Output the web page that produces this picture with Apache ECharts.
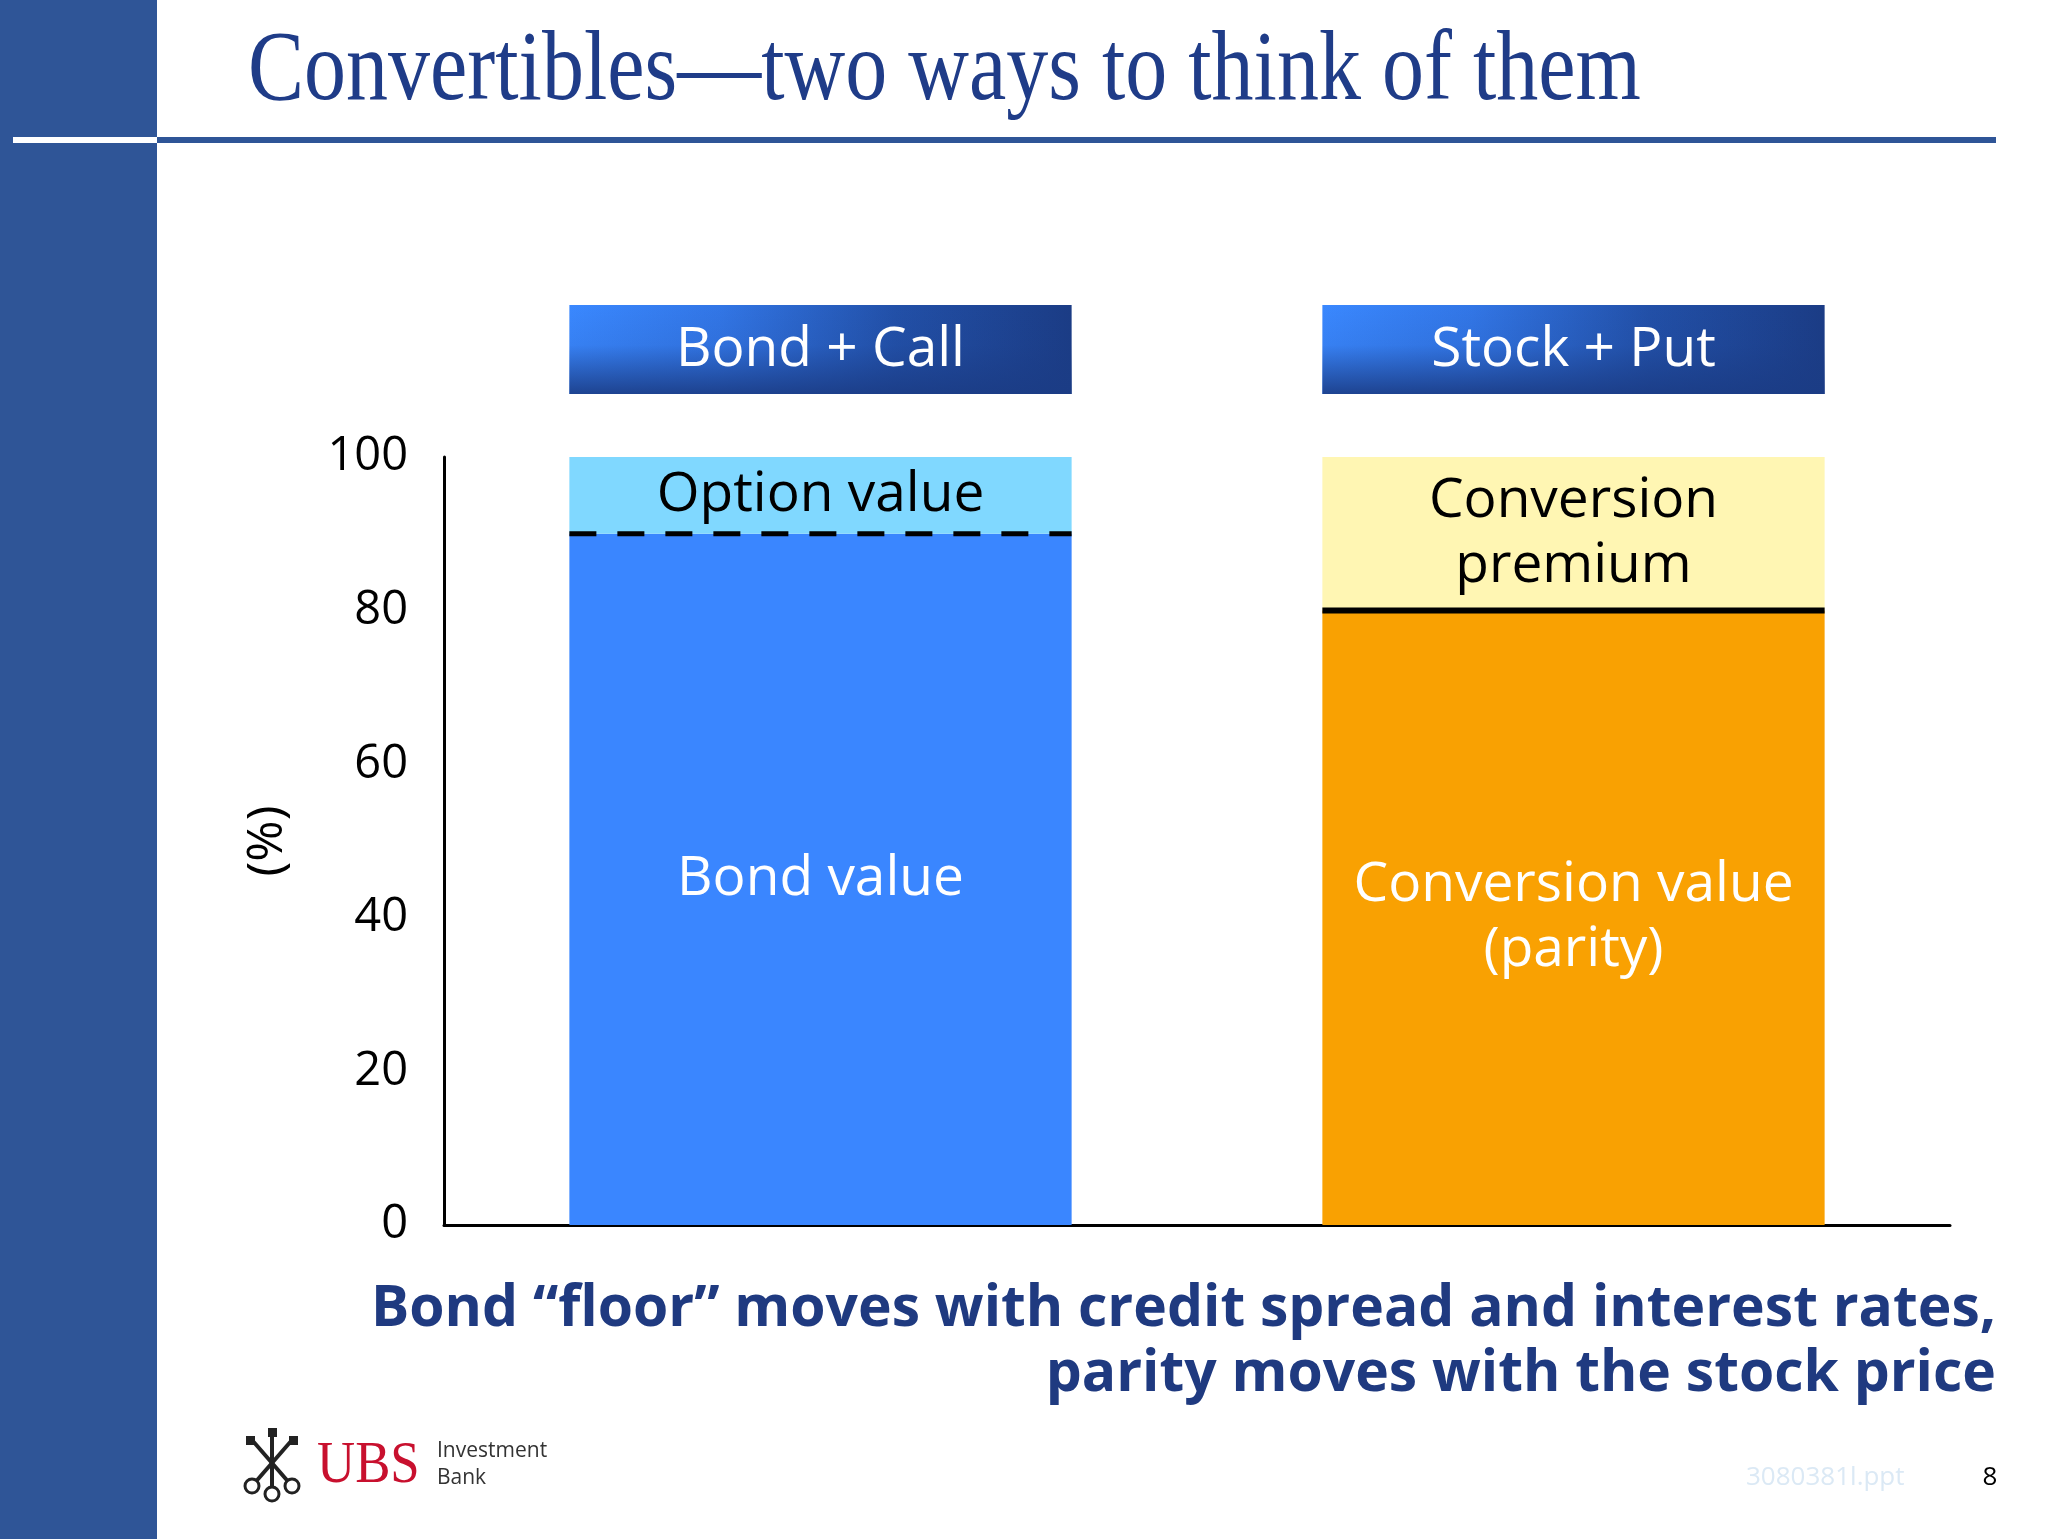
<!DOCTYPE html>
<html><head><meta charset="utf-8">
<style>html,body{margin:0;padding:0;background:#fff}#c{width:2048px;height:1539px}</style>
<script src="https://cdn.jsdelivr.net/npm/echarts@6/dist/echarts.min.js"></script>
</head><body><div id="c"></div>
<script>
const categories = ['Bond + Call', 'Stock + Put'];
const baseValues = [90, 80];
const topValues = [10, 20];
const baseLabels = ['Bond value', 'Conversion value\n(parity)'];
const topLabels = ['Option value', 'Conversion\npremium'];
const baseColors = ['#3a86ff', '#f9a102'];
const topColors = ['#80d8ff', '#fff6b3'];
const dividerDashed = [true, false];
const yTicks = [0, 20, 40, 60, 80, 100];
const yAxisName = '(%)';
const titleText = 'Convertibles\u2014two ways to think of them';
const footnoteLines = ['Bond \u201cfloor\u201d moves with credit spread and interest rates,', 'parity moves with the stock price'];
const fileLabel = '3080381l.ppt';
const pageNumber = '8';

const SANS = '"Open Sans", "Noto Sans", sans-serif';
const BAR_FRAC = 0.667;

const chart = echarts.init(document.getElementById('c'), null, {renderer: 'canvas'});

const option = {
  backgroundColor: '#ffffff',
  animation: false,
  grid: {left: 444, right: 98, top: 457, bottom: 314},
  xAxis: {
    type: 'category',
    data: categories,
    axisLine: {show: true, lineStyle: {color: '#000', width: 3}},
    axisTick: {show: false},
    axisLabel: {show: false},
    splitLine: {show: false}
  },
  yAxis: {
    type: 'value',
    min: yTicks[0],
    max: yTicks[yTicks.length - 1],
    interval: yTicks[1] - yTicks[0],
    name: yAxisName,
    nameLocation: 'middle',
    nameRotate: 90,
    nameGap: 151,
    nameTextStyle: {fontSize: 50, color: '#000', fontFamily: SANS},
    axisLine: {show: true, lineStyle: {color: '#000', width: 3}},
    axisTick: {show: false},
    splitLine: {show: false},
    axisLabel: {fontSize: 47, color: '#000', fontFamily: SANS, margin: 36}
  },
  series: [
    {
      type: 'bar', name: 'base', stack: 'total', barWidth: (BAR_FRAC * 100) + '%',
      data: baseValues.map((v, i) => ({
        value: v,
        itemStyle: {color: baseColors[i]},
        label: {show: true, position: 'inside', formatter: baseLabels[i], color: '#fff',
          fontSize: 55, lineHeight: 65, fontFamily: SANS}
      }))
    },
    {
      type: 'bar', name: 'top', stack: 'total', barWidth: (BAR_FRAC * 100) + '%',
      data: topValues.map((v, i) => ({
        value: v,
        itemStyle: {color: topColors[i]},
        label: {show: true, position: 'inside', formatter: topLabels[i], color: '#000',
          fontSize: 55, lineHeight: 65, fontFamily: SANS}
      }))
    },
    {
      type: 'custom', name: 'dividers', z: 10,
      data: baseValues.map((v, i) => [i, v]),
      renderItem: function (params, api) {
        const i = api.value(0);
        const p = api.coord([i, api.value(1)]);
        const w = api.size([1, 0])[0] * BAR_FRAC;
        const dashed = dividerDashed[params.dataIndex];
        return {
          type: 'line',
          shape: {x1: p[0] - w / 2, y1: p[1], x2: p[0] + w / 2, y2: p[1]},
          style: {stroke: '#000', lineWidth: dashed ? 5 : 6, lineDash: dashed ? [27, 21] : null, lineCap: 'butt'}
        };
      }
    },
    {
      type: 'custom', name: 'headers', z: 10, clip: false,
      data: categories.map((c, i) => [i, yTicks[yTicks.length - 1]]),
      renderItem: function (params, api) {
        const p = api.coord([api.value(0), api.value(1)]);
        const w = api.size([1, 0])[0] * BAR_FRAC;
        const box = {x: p[0] - w / 2, y: p[1] - 152, width: w, height: 89};
        return {
          type: 'group',
          children: [
            {
              type: 'rect', shape: box,
              style: {fill: {type: 'linear', x: 0, y: 0, x2: 1, y2: 0, colorStops: [
                {offset: 0, color: '#3a88ff'}, {offset: 0.3, color: '#3276e6'},
                {offset: 0.65, color: '#2250a8'}, {offset: 1, color: '#1b3c85'}]}}
            },
            {
              type: 'rect', shape: box,
              style: {fill: {type: 'linear', x: 0, y: 0, x2: 0, y2: 1, colorStops: [
                {offset: 0, color: 'rgba(27,60,133,0)'}, {offset: 0.45, color: 'rgba(27,60,133,0.1)'},
                {offset: 1, color: 'rgba(27,60,133,0.9)'}]}}
            },
            {
              type: 'text',
              x: p[0], y: p[1] - 107,
              style: {text: categories[params.dataIndex], fill: '#fff', font: '55px ' + SANS,
                align: 'center', verticalAlign: 'middle'}
            }
          ]
        };
      }
    }
  ],
  graphic: [
    {type: 'rect', shape: {x: 0, y: 0, width: 157, height: 1539}, style: {fill: '#2f5597'}, z: 1},
    {type: 'rect', shape: {x: 13, y: 137, width: 144, height: 6}, style: {fill: '#ffffff'}, z: 2},
    {type: 'rect', shape: {x: 157, y: 137, width: 1839, height: 6}, style: {fill: '#2f5597'}, z: 2},
    {type: 'text', x: 248, y: 73, scaleX: 0.84,
      style: {text: titleText, fill: '#1f3c88', font: '100px "Liberation Serif", serif', verticalAlign: 'middle', align: 'left'}},
    {type: 'text', x: 1996, y: 1310,
      style: {text: footnoteLines[0], fill: '#1f3a80', font: 'bold 57px ' + SANS, align: 'right', verticalAlign: 'middle'}},
    {type: 'text', x: 1996, y: 1375,
      style: {text: footnoteLines[1], fill: '#1f3a80', font: 'bold 57px ' + SANS, align: 'right', verticalAlign: 'middle'}},
    // UBS logo (approximation)
    {type: 'group', children: [
      {type: 'line', shape: {x1: 252, y1: 1440, x2: 292, y2: 1486}, style: {stroke: '#222', lineWidth: 4}},
      {type: 'line', shape: {x1: 292, y1: 1440, x2: 252, y2: 1486}, style: {stroke: '#222', lineWidth: 4}},
      {type: 'line', shape: {x1: 272, y1: 1432, x2: 272, y2: 1494}, style: {stroke: '#222', lineWidth: 4}},
      {type: 'circle', shape: {cx: 252, cy: 1486, r: 7}, style: {fill: '#fff', stroke: '#222', lineWidth: 3}},
      {type: 'circle', shape: {cx: 292, cy: 1486, r: 7}, style: {fill: '#fff', stroke: '#222', lineWidth: 3}},
      {type: 'circle', shape: {cx: 272, cy: 1494, r: 7}, style: {fill: '#fff', stroke: '#222', lineWidth: 3}},
      {type: 'rect', shape: {x: 246, y: 1436, width: 9, height: 9}, style: {fill: '#222'}},
      {type: 'rect', shape: {x: 289, y: 1436, width: 9, height: 9}, style: {fill: '#222'}},
      {type: 'rect', shape: {x: 268, y: 1428, width: 9, height: 9}, style: {fill: '#222'}}
    ]},
    {type: 'text', x: 317, y: 1466, scaleX: 0.88,
      style: {text: 'UBS', fill: '#c8102e', font: '60px "Liberation Serif", serif', align: 'left', verticalAlign: 'middle'}},
    {type: 'text', x: 437, y: 1451,
      style: {text: 'Investment', fill: '#333', font: '21px ' + SANS, align: 'left', verticalAlign: 'middle'}},
    {type: 'text', x: 437, y: 1478,
      style: {text: 'Bank', fill: '#333', font: '21px ' + SANS, align: 'left', verticalAlign: 'middle'}},
    {type: 'text', x: 1746, y: 1478,
      style: {text: fileLabel, fill: '#dbe9f5', font: '26px ' + SANS, align: 'left', verticalAlign: 'middle'}},
    {type: 'text', x: 1990, y: 1478,
      style: {text: pageNumber, fill: '#000', font: '26px ' + SANS, align: 'center', verticalAlign: 'middle'}}
  ]
};
chart.setOption(option);
</script>
</body></html>
